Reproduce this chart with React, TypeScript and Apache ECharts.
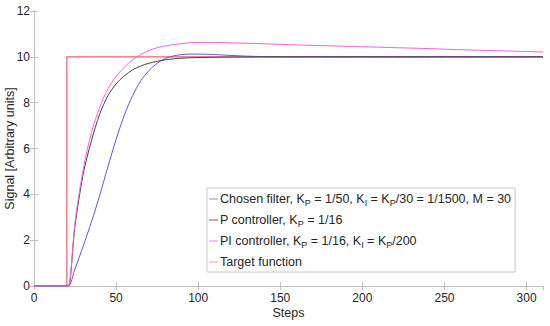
import React, { useEffect, useRef } from "react";
import * as echarts from "echarts";

const chosenX = [0, 20, 21, 25, 30, 35, 40, 45, 50, 55, 60, 65, 70, 75, 80, 85, 90, 95, 100, 110, 120, 130, 140, 150, 200, 250, 310];
const chosenY = [0, 0, 0, 0.75, 1.75, 2.8, 3.95, 5.2, 6.4, 7.45, 8.3, 8.95, 9.4, 9.72, 9.93, 10.04, 10.1, 10.12, 10.12, 10.1, 10.06, 10.03, 10.01, 10.0, 10.0, 10.0, 10.0];

const pX = [0, 20, 21, 25, 30, 35, 40, 45, 50, 55, 60, 65, 70, 80, 90, 100, 120, 150, 200, 250, 310];
const pY = [0, 0, 0, 2.65, 4.9, 6.35, 7.5, 8.3, 8.82, 9.17, 9.43, 9.6, 9.72, 9.87, 9.94, 9.97, 9.99, 10.0, 10.0, 10.0, 10.0];

const piX = [0, 20, 21, 25, 30, 35, 40, 45, 50, 55, 60, 65, 70, 75, 80, 90, 100, 110, 120, 140, 160, 180, 200, 220, 240, 260, 280, 310];
const piY = [0, 0, 0, 2.8, 5.1, 6.7, 7.8, 8.6, 9.15, 9.55, 9.87, 10.1, 10.27, 10.4, 10.48, 10.58, 10.63, 10.63, 10.61, 10.57, 10.52, 10.48, 10.44, 10.4, 10.36, 10.31, 10.27, 10.21];

const targetX = [0, 20, 20, 310];
const targetY = [0, 0, 10, 10];

const xTicksMax = 310;
const yTicksMax = 12;

const legendLabels: Record<string, string> = {
  chosen: "Chosen filter, K{s|P} = 1/50, K{s|I} = K{s|P}/30 = 1/1500, M = 30",
  p: "P controller, K{s|P} = 1/16",
  pi: "PI controller, K{s|P} = 1/16, K{s|I} = K{s|P}/200",
  target: "Target function",
};

const zip = (xs: number[], ys: number[]) => xs.map((x, i) => [x, ys[i]]);

const FONT = "'Liberation Sans', Arial, Helvetica, sans-serif";
const AXIS_COLOR = "#bdbdbd";
const TEXT_COLOR = "#262626";

export default function App() {
  const ref = useRef<HTMLDivElement>(null);
  useEffect(() => {
    if (!ref.current) return;
    const chart = echarts.init(ref.current, undefined, { renderer: "svg" });
    const axisCommon = {
      axisLine: { show: true, lineStyle: { color: AXIS_COLOR, width: 1 } },
      axisTick: { show: true, inside: true, length: 4, lineStyle: { color: AXIS_COLOR } },
      splitLine: { show: false },
    };
    chart.setOption({
      animation: false,
      backgroundColor: "#ffffff",
      textStyle: { fontFamily: FONT },
      grid: { left: 34, right: 7, top: 11, bottom: 40, containLabel: false, outerBoundsMode: "none" },
      xAxis: [
        {
          type: "value",
          min: 0,
          max: xTicksMax,
          interval: 50,
          position: "bottom",
          name: "Steps",
          nameLocation: "middle",
          nameGap: 20,
          nameMoveOverlap: false,
          nameTextStyle: { color: TEXT_COLOR, fontSize: 12.5, fontFamily: FONT },
          axisLabel: { color: TEXT_COLOR, fontSize: 12, margin: 6, showMaxLabel: false, fontFamily: FONT },
          ...axisCommon,
        },
        {
          type: "value",
          min: 0,
          max: xTicksMax,
          interval: 50,
          position: "top",
          axisLabel: { show: false },
          ...axisCommon,
        },
      ],
      yAxis: [
        {
          type: "value",
          min: 0,
          max: yTicksMax,
          interval: 2,
          position: "left",
          name: "Signal [Arbitrary units]",
          nameLocation: "middle",
          nameGap: 18,
          nameMoveOverlap: false,
          nameTextStyle: { color: TEXT_COLOR, fontSize: 12.5, fontFamily: FONT },
          axisLabel: { color: TEXT_COLOR, fontSize: 12, margin: 4, fontFamily: FONT },
          ...axisCommon,
        },
        {
          type: "value",
          min: 0,
          max: yTicksMax,
          interval: 2,
          position: "right",
          axisLabel: { show: false },
          ...axisCommon,
        },
      ],
      legend: {
        orient: "vertical",
        left: 207,
        top: 188,
        padding: [3, 4, 2, 2],
        itemWidth: 9,
        itemHeight: 1,
        itemGap: 5,
        icon: "rect",
        backgroundColor: "#ffffff",
        borderColor: "#c8c8c8",
        borderWidth: 1,
        borderRadius: 0,
        data: ["chosen", "p", "pi", "target"],
        formatter: (name: string) => legendLabels[name],
        textStyle: {
          color: TEXT_COLOR,
          fontSize: 12.5,
          lineHeight: 16,
          fontFamily: FONT,
          padding: [0, 0, 0, -3],
          rich: {
            s: { fontSize: 9, lineHeight: 9, verticalAlign: "bottom", color: TEXT_COLOR, fontFamily: FONT },
          },
        },
      },
      series: [
        {
          name: "chosen",
          type: "line",
          data: zip(chosenX, chosenY),
          smooth: 0.3,
          showSymbol: false,
          lineStyle: { color: "#5a5ae0", width: 1 },
          itemStyle: { color: "#8a8ae8" },
          z: 3,
        },
        {
          name: "p",
          type: "line",
          data: zip(pX, pY),
          smooth: 0.3,
          showSymbol: false,
          lineStyle: { color: "#444444", width: 1 },
          itemStyle: { color: "#666666" },
          z: 4,
        },
        {
          name: "pi",
          type: "line",
          data: zip(piX, piY),
          smooth: 0.3,
          showSymbol: false,
          lineStyle: { color: "#ff5ee0", width: 1 },
          itemStyle: { color: "#d58ee8" },
          z: 5,
        },
        {
          name: "target",
          type: "line",
          data: zip(targetX, targetY),
          showSymbol: false,
          lineStyle: { color: "#ff5a6e", width: 1.2 },
          itemStyle: { color: "#f0a090" },
          z: 2,
        },
      ],
    });
    return () => chart.dispose();
  }, []);
  return <div ref={ref} style={{ width: 550, height: 326, position: "absolute", left: 0, top: 0 }} />;
}
